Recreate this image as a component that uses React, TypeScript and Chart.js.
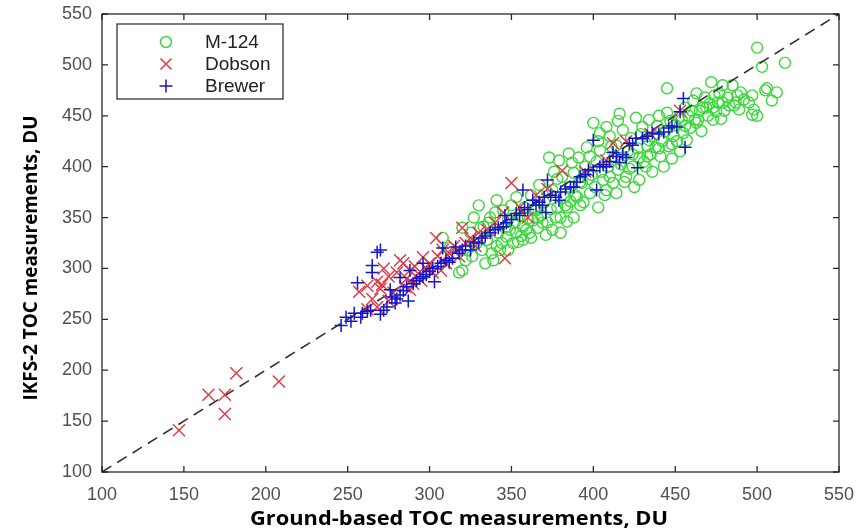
import React, { useEffect, useRef } from 'react';
import { Chart, registerables } from 'chart.js';
Chart.register(...registerables);

const AXIS_MIN = 100;
const AXIS_MAX = 550;
const AXIS_STEP = 50;
const X_TITLE = 'Ground-based TOC measurements, DU';
const Y_TITLE = 'IKFS-2 TOC measurements, DU';
const SERIES_NAMES = ['M-124', 'Dobson', 'Brewer'];

const m124Points: [number, number][] = [
  [308,330],[312,320],[318,296],[320,340],[320,298],[322,308],[323,318],[325,335],[327,350],[329,325],
  [330,362],[331,340],[332,318],[333,341],[335,328],[336,345],[337,350],[338,315],[339,308],[340,355],
  [341,367],[342,335],[343,318],[344,325],[345,357],[346,340],[347,331],[348,348],[349,338],[350,362],
  [351,325],[352,345],[353,370],[353,335],[355,352],[356,332],[357,341],[357,328],[358,360],[359,338],
  [360,349],[361,335],[362,372],[363,347],[364,358],[365,357],[366,340],[367,382],[368,352],[369,345],
  [370,365],[371,333],[372,375],[373,409],[374,358],[375,338],[375,377],[376,395],[377,350],[378,388],
  [379,406],[380,335],[380,350],[381,390],[382,370],[383,362],[384,360],[384,346],[385,413],[386,380],
  [387,404],[388,350],[388,394],[389,372],[390,370],[391,409],[392,385],[393,384],[394,365],[395,400],
  [396,419],[397,388],[398,374],[399,392],[400,443],[401,380],[402,405],[403,360],[404,416],[404,433],
  [405,395],[406,387],[407,372],[408,439],[408,377],[409,400],[410,390],[411,420],[412,384],[413,410],
  [414,374],[414,421],[415,397],[416,452],[417,402],[418,409],[418,436],[419,385],[420,390],[421,415],
  [422,398],[423,428],[424,400],[425,380],[426,448],[427,418],[428,409],[428,387],[429,432],[430,439],
  [431,405],[432,400],[433,420],[434,426],[434,446],[435,412],[436,395],[437,430],[438,419],[439,440],
  [440,418],[441,410],[442,425],[443,400],[444,435],[445,453],[445,477],[446,420],[447,445],[448,408],
  [449,430],[450,441],[451,425],[452,448],[453,415],[454,446],[455,433],[456,440],[457,426],[458,450],
  [459,438],[460,455],[461,465],[462,446],[463,443],[463,472],[464,446],[465,455],[466,435],[467,458],
  [468,468],[469,458],[470,450],[471,462],[472,483],[473,446],[473,458],[474,470],[475,454],[476,463],
  [477,472],[478,447],[479,480],[479,463],[480,455],[482,468],[483,460],[485,480],[486,460],[487,463],
  [488,470],[489,456],[490,473],[492,466],[495,463],[497,470],[497,451],[498,456],[500,517],[500,450],
  [503,498],[505,475],[506,477],[509,465],[512,473],[517,502],
  [326,312],[334,305],[341,322],[348,318],[354,326],[362,330],[366,350],[372,345],[378,360],[386,366],
  [392,362],[398,410],[403,425],[410,430],[415,445],[424,412],[433,410],[440,450],[448,422],[456,458]
];

const dobsonPoints: [number, number][] = [
  [147,141],[165,176],[175,176],[175,157],[182,197],[208,189],
  [257,277],[262,283],[262,260],[265,270],[268,287],[268,262],[270,280],[271,284],[272,300],[275,292],
  [275,268],[278,276],[280,296],[282,308],[284,305],[285,282],[286,290],[288,279],[288,298],[290,285],
  [291,302],[293,295],[295,288],[296,311],[298,300],[300,305],[302,296],[304,330],[305,312],[307,298],
  [308,318],[310,305],[312,315],[315,322],[318,312],[320,340],[322,325],[325,330],[328,322],[330,335],
  [335,338],[340,345],[345,355],[346,310],[350,384],[355,360],[360,350],[365,372],[372,378],[381,396],
  [395,395],[408,406],[412,423],[420,425],[435,432],[453,455]
];

const brewerPoints: [number, number][] = [
  [246,244],[249,252],[252,248],[254,256],[256,286],[258,252],[259,256],[262,258],[264,259],[265,296],
  [265,303],[268,316],[270,318],[270,255],[272,259],[274,262],[276,279],[277,272],[279,266],[280,270],
  [282,274],[282,291],[284,278],[286,282],[287,268],[288,298],[290,285],[292,288],[294,290],[296,305],
  [296,292],[298,294],[300,297],[302,300],[303,287],[305,302],[307,305],[308,320],[310,308],[312,306],
  [314,310],[316,321],[318,315],[320,318],[322,322],[325,318],[327,326],[330,325],[332,330],[334,332],
  [337,335],[340,338],[342,340],[345,341],[346,352],[347,345],[350,348],[353,354],[355,352],[357,377],
  [358,360],[360,358],[363,367],[365,362],[367,365],[369,362],[370,370],[371,355],[372,387],[374,372],
  [377,370],[379,367],[380,375],[383,378],[386,380],[388,380],[390,385],[392,390],[395,392],[397,397],
  [400,396],[400,426],[402,377],[404,400],[406,402],[408,400],[410,405],[412,414],[414,410],[416,404],
  [418,412],[420,409],[422,423],[424,421],[426,428],[427,399],[430,428],[433,430],[436,433],[440,432],
  [443,434],[446,438],[448,440],[451,439],[453,454],[455,467],[456,419]
];

const GREEN = 'rgb(60,215,60)';
const RED = 'rgb(228,55,68)';
const BLUE = 'rgb(20,20,200)';

const toXY = (pts: [number, number][]) => pts.map(([x, y]) => ({ x, y }));

const framePlugin = {
  id: 'frameAndDecor',
  afterDraw(chart: any) {
    const { ctx, chartArea: a, scales } = chart;
    const xs = scales.x;
    const ys = scales.y;
    ctx.save();
    ctx.strokeStyle = '#2a2a2a';
    ctx.lineWidth = 1.3;
    ctx.strokeRect(a.left, a.top, a.right - a.left, a.bottom - a.top);
    const tl = 6;
    ctx.beginPath();
    for (let v = AXIS_MIN; v <= AXIS_MAX; v += AXIS_STEP) {
      const px = xs.getPixelForValue(v);
      ctx.moveTo(px, a.bottom); ctx.lineTo(px, a.bottom - tl);
      ctx.moveTo(px, a.top); ctx.lineTo(px, a.top + tl);
      const py = ys.getPixelForValue(v);
      ctx.moveTo(a.left, py); ctx.lineTo(a.left + tl, py);
      ctx.moveTo(a.right, py); ctx.lineTo(a.right - tl, py);
    }
    ctx.stroke();

    ctx.fillStyle = '#000';
    ctx.font = 'bold 19px "Open Sans"';
    ctx.textAlign = 'center';
    ctx.textBaseline = 'middle';
    const xw = ctx.measureText(X_TITLE).width;
    ctx.save();
    ctx.translate(459, 520);
    ctx.scale(418 / xw, 1);
    ctx.fillText(X_TITLE, 0, 0);
    ctx.restore();
    const yw = ctx.measureText(Y_TITLE).width;
    ctx.save();
    ctx.translate(32, 258);
    ctx.rotate(-Math.PI / 2);
    ctx.scale(285 / yw, 1);
    ctx.fillText(Y_TITLE, 0, 0);
    ctx.restore();

    const lx = 117, ly = 24, lw = 166, lh = 75;
    ctx.fillStyle = '#fff';
    ctx.fillRect(lx, ly, lw, lh);
    ctx.strokeStyle = '#222';
    ctx.lineWidth = 1.2;
    ctx.strokeRect(lx, ly, lw, lh);
    const rows = [42, 64, 86];
    const mx = 166;
    ctx.lineWidth = 1.5;
    ctx.strokeStyle = GREEN;
    ctx.beginPath();
    ctx.arc(mx, rows[0], 5.5, 0, Math.PI * 2);
    ctx.stroke();
    ctx.strokeStyle = RED;
    ctx.beginPath();
    ctx.moveTo(mx - 5.5, rows[1] - 5.5); ctx.lineTo(mx + 5.5, rows[1] + 5.5);
    ctx.moveTo(mx + 5.5, rows[1] - 5.5); ctx.lineTo(mx - 5.5, rows[1] + 5.5);
    ctx.stroke();
    ctx.strokeStyle = BLUE;
    ctx.beginPath();
    ctx.moveTo(mx - 6.5, rows[2]); ctx.lineTo(mx + 6.5, rows[2]);
    ctx.moveTo(mx, rows[2] - 6.5); ctx.lineTo(mx, rows[2] + 6.5);
    ctx.stroke();
    ctx.fillStyle = '#222';
    ctx.font = '19px "Liberation Sans"';
    ctx.textAlign = 'left';
    ctx.textBaseline = 'middle';
    SERIES_NAMES.forEach((n, i) => ctx.fillText(n, 205, rows[i] + 1));
    ctx.restore();
  },
};

const zeroPad = (s: any) => {
  s.paddingLeft = 0; s.paddingRight = 0; s.paddingTop = 0; s.paddingBottom = 0;
};

export default function App() {
  const ref = useRef<HTMLCanvasElement | null>(null);
  useEffect(() => {
    document.body.style.margin = '0';
    const canvas = ref.current;
    if (!canvas) return;
    const chart = new Chart(canvas, {
      type: 'scatter',
      data: {
        datasets: [
          {
            label: SERIES_NAMES[0],
            data: toXY(m124Points),
            pointStyle: 'circle',
            pointRadius: 5.5,
            borderWidth: 1.4,
            borderColor: GREEN,
            backgroundColor: 'rgba(0,0,0,0)',
            order: 4,
          },
          {
            label: 'y=x',
            type: 'line',
            data: [{ x: AXIS_MIN, y: AXIS_MIN }, { x: AXIS_MAX, y: AXIS_MAX }],
            borderColor: '#333',
            borderWidth: 1.6,
            borderDash: [11, 7],
            pointRadius: 0,
            fill: false,
            order: 3,
          } as any,
          {
            label: SERIES_NAMES[1],
            data: toXY(dobsonPoints),
            pointStyle: 'crossRot',
            pointRadius: 8.5,
            borderWidth: 1.4,
            borderColor: RED,
            backgroundColor: RED,
            order: 2,
          },
          {
            label: SERIES_NAMES[2],
            data: toXY(brewerPoints),
            pointStyle: 'cross',
            pointRadius: 6.5,
            borderWidth: 1.5,
            borderColor: BLUE,
            backgroundColor: BLUE,
            order: 1,
          },
        ],
      },
      options: {
        responsive: false,
        animation: false,
        devicePixelRatio: 1,
        layout: { padding: { left: 0, top: 14, right: 20, bottom: 0 } },
        plugins: { legend: { display: false }, tooltip: { enabled: false } },
        scales: {
          x: {
            type: 'linear',
            min: AXIS_MIN,
            max: AXIS_MAX,
            grid: { display: false, drawTicks: false },
            border: { display: false },
            ticks: {
              stepSize: AXIS_STEP,
              padding: 12,
              color: '#505050',
              font: { family: '"Liberation Sans"', size: 18 },
              maxRotation: 0,
            },
            afterFit: (s: any) => { s.height = 60; zeroPad(s); },
          },
          y: {
            type: 'linear',
            min: AXIS_MIN,
            max: AXIS_MAX,
            grid: { display: false, drawTicks: false },
            border: { display: false },
            ticks: {
              stepSize: AXIS_STEP,
              padding: 10,
              color: '#505050',
              font: { family: '"Liberation Sans"', size: 18 },
            },
            afterFit: (s: any) => { s.width = 102; zeroPad(s); },
          },
        },
      },
      plugins: [framePlugin],
    });
    return () => chart.destroy();
  }, []);
  return (
    <div style={{ position: 'absolute', left: 0, top: 0, width: 859, height: 532, background: '#fff' }}>
      <canvas ref={ref} width={859} height={532} />
    </div>
  );
}
